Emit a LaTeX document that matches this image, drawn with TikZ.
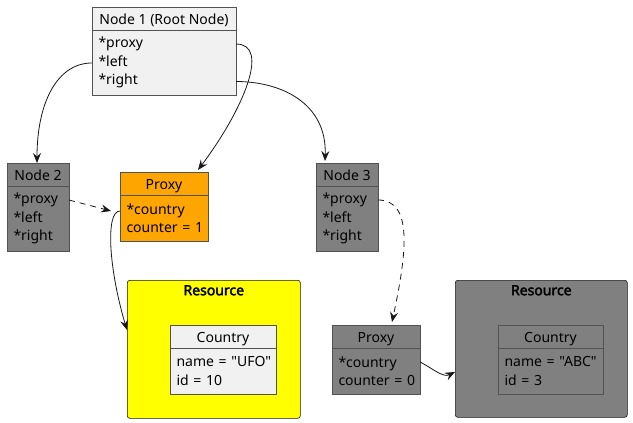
\documentclass[tikz,border=0pt]{standalone}
\usepackage{fontspec}
\setmainfont{Noto Sans}[Ligatures=TeXOff]
\newfontfamily\titlefont{Noto Sans}[FakeBold=2.5]
\usepackage{tikz}
\usetikzlibrary{positioning,arrows.meta}
\definecolor{objlight}{HTML}{F1F1F1}
\definecolor{objgray}{HTML}{808080}
\definecolor{proxyorange}{HTML}{FFA500}
\definecolor{resyellow}{HTML}{FFFF00}
\definecolor{edgeline}{HTML}{181818}

\begin{document}
\begin{tikzpicture}[x=1pt, y=-1pt,
    hdr/.style={rectangle, draw=edgeline!75, line width=0.5pt, outer sep=0pt, minimum height=23pt, inner sep=0pt, text height=12pt, text depth=1pt, anchor=north west, font=\fontsize{14}{18.5}\selectfont},
    fields/.style={rectangle, draw=edgeline!75, line width=0.5pt, outer sep=0pt, align=left, inner xsep=6.5pt, inner ysep=0pt, font=\fontsize{14}{18.5}\selectfont},
    resbox/.style={rectangle, draw=edgeline, line width=0.6pt, rounded corners=2.5pt, anchor=north west, inner sep=0pt},
    restitle/.style={font=\titlefont\fontsize{14}{16}\selectfont, anchor=north, inner sep=0pt},
    link/.style={-{Stealth[length=10pt,width=8pt,inset=3.5pt]}, line width=0.8pt, draw=edgeline},
    weak/.style={link, dash pattern=on 6pt off 5pt}
]
\useasboundingbox (0,0) rectangle (633,423);

% Tree nodes
\node[hdr, fill=objlight, minimum width=144pt] at (92,7) (n1h) {Node 1 (Root Node)};
\node[fields, fill=objlight, minimum width=144pt, text width=131pt, minimum height=65pt, below=0pt of n1h] (n1b) {*proxy\\{*}left\\{*}right};
\node[hdr, fill=objgray, minimum width=62pt] at (7,163) (n2h) {Node 2};
\node[fields, fill=objgray, minimum width=62pt, text width=49pt, minimum height=65pt, below=0pt of n2h] (n2b) {*proxy\\{*}left\\{*}right};
\node[hdr, fill=objgray, minimum width=62pt] at (316,163) (n3h) {Node 3};
\node[fields, fill=objgray, minimum width=62pt, text width=49pt, minimum height=65pt, below=0pt of n3h] (n3b) {*proxy\\{*}left\\{*}right};

% Proxies
\node[hdr, fill=proxyorange, minimum width=88pt] at (120,172) (p1h) {Proxy};
\node[fields, fill=proxyorange, minimum width=88pt, text width=75pt, minimum height=46pt, below=0pt of p1h] (p1b) {*country\\counter~=~1};
\node[hdr, fill=objgray, minimum width=88pt] at (332,325) (p2h) {Proxy};
\node[fields, fill=objgray, minimum width=88pt, text width=75pt, minimum height=46pt, below=0pt of p2h] (p2b) {*country\\counter~=~0};

% Resources
\node[resbox, fill=resyellow, minimum width=173pt, minimum height=138pt] at (127,280) (res1) {};
\node[restitle] at ([yshift=-5pt]res1.north) (res1t) {Resource};
\node[hdr, fill=objlight, minimum width=106pt] at (170,325) (c1h) {Country};
\node[fields, fill=objlight, minimum width=106pt, text width=93pt, minimum height=46pt, below=0pt of c1h] (c1b) {name~=~"UFO"\\id~=~10};
\node[resbox, fill=objgray, minimum width=172pt, minimum height=137pt] at (455,280) (res2) {};
\node[restitle] at ([yshift=-5pt]res2.north) (res2t) {Resource};
\node[hdr, fill=objgray, minimum width=105pt] at (498,325) (c2h) {Country};
\node[fields, fill=objgray, minimum width=105pt, text width=92pt, minimum height=46pt, below=0pt of c2h] (c2b) {name~=~"ABC"\\id~=~3};

% Field ports
\coordinate (n1proxy) at ([yshift=-14pt]n1b.north east);
\coordinate (n1left)  at ([yshift=-33pt]n1b.north west);
\coordinate (n1right) at ([yshift=-51.5pt]n1b.north east);
\coordinate (n2proxy) at ([yshift=-14pt]n2b.north east);
\coordinate (n3proxy) at ([yshift=-14pt]n3b.north east);
\coordinate (p1country) at ([yshift=-16pt]p1b.north west);
\coordinate (p2country) at ([yshift=-14pt]p2b.north east);

\draw[link] (n1left)  .. controls +(-35,0) and +(0,-60) .. ([xshift=-1pt]n2h.north);
\draw[link] (n1proxy) .. controls +(35,0) and +(45,-60) .. ([xshift=-10pt,yshift=2pt]p1h.north east);
\draw[link] (n1right) .. controls +(45,0) and +(2,-58) .. ([xshift=9pt,yshift=2pt]n3h.north west);
\draw[weak] (n2proxy) -- ([xshift=-9pt]p1country);
\draw[link] (p1country) .. controls +(-15,0) and +(-18,-60) .. ([yshift=-50pt]res1.north west);
\draw[weak] (n3proxy) .. controls +(35,0) and +(15,-70) .. ([xshift=16pt,yshift=3pt]p2h.north);
\draw[link] (p2country) .. controls +(12,6) and +(-12,6) .. ([yshift=-92pt]res2.north west);
\end{tikzpicture}
\end{document}
